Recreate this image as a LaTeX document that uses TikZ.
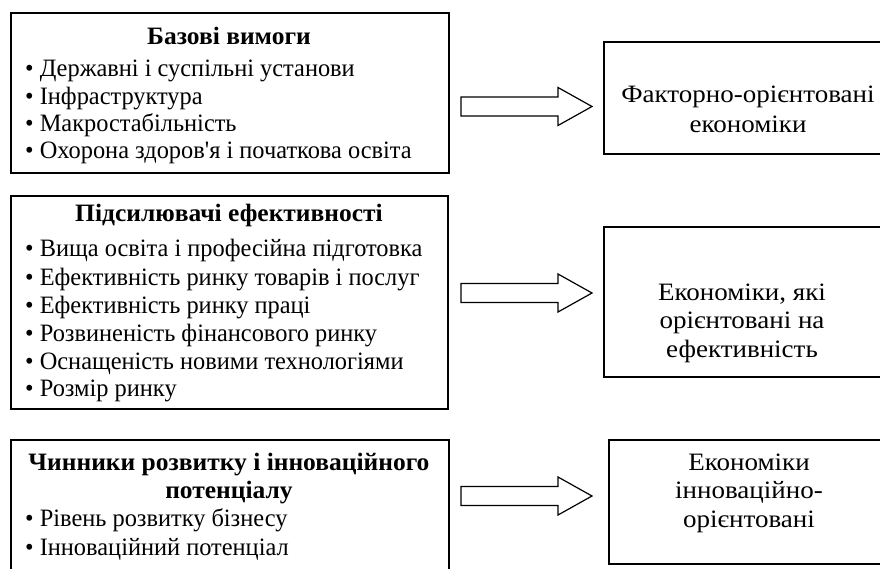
\documentclass[tikz,border=0pt]{standalone}
\usepackage{fontspec}
\setmainfont{Liberation Serif}[FakeStretch=0.975,Ligatures=TeXOff]
\newfontfamily\ttlfont{Liberation Serif}[FakeStretch=1.02]
\newfontfamily\rfont{Liberation Serif}[FakeStretch=1.08]
\newcommand{\blockarrow}[1]{%
  \draw[barrow] (461,{#1-9.5}) -- (558,{#1-9.5}) -- (558,{#1-19}) -- (592,#1)
    -- (558,{#1+19}) -- (558,{#1+9.5}) -- (461,{#1+9.5}) -- cycle;}
\begin{document}
\begin{tikzpicture}[x=1pt,y=-1pt,
  box/.style={draw=black, line width=1.6pt, inner sep=0pt, anchor=north west},
  txt/.style={anchor=base west, inner sep=0pt, font=\fontsize{25}{30}\selectfont},
  ttl/.style={anchor=base, inner sep=0pt, font=\ttlfont\fontsize{25}{30}\selectfont\bfseries},
  rtxt/.style={anchor=base, inner sep=0pt, font=\rfont\fontsize{25}{30}\selectfont},
  barrow/.style={draw=black, line width=1.2pt, fill=white, line join=miter}]
\useasboundingbox (0,0) rectangle (880,569);
\fill[white] (0,0) rectangle (880,569);
\clip (0,0) rectangle (880,569);
% left boxes
\node[box, minimum width=438pt, minimum height=160pt] (L1) at (10,12) {};
\node[box, minimum width=437pt, minimum height=213pt] (L2) at (10,195) {};
\node[box, minimum width=438pt, minimum height=160pt] (L3) at (10,439) {};
% right boxes
\node[box, minimum width=290pt, minimum height=112pt] (R1) at (603,41) {};
\node[box, minimum width=290pt, minimum height=150pt] (R2) at (603,226) {};
\node[box, minimum width=285pt, minimum height=124pt] (R3) at (608,439) {};
% arrows
\blockarrow{106.5}
\blockarrow{293}
\blockarrow{496}
% box 1 text
\node[ttl] (t1) at (229,45) {Базові вимоги};
\node[txt] (a1) at (25,77) {• Державні і суспільні установи};
\node[txt] (a2) at (25,105) {• Інфраструктура};
\node[txt] (a3) at (25,132) {• Макростабільність};
\node[txt] (a4) at (25,159) {• Охорона здоров'я і початкова освіта};
% box 2 text
\node[ttl] (t2) at (229,222) {Підсилювачі ефективності};
\node[txt] (b1) at (25,257) {• Вища освіта і професійна підготовка};
\node[txt] (b2) at (25,285) {• Ефективність ринку товарів і послуг};
\node[txt] (b3) at (25,313) {• Ефективність ринку праці};
\node[txt] (b4) at (25,341) {• Розвиненість фінансового ринку};
\node[txt] (b5) at (25,369) {• Оснащеність новими технологіями};
\node[txt] (b6) at (25,396) {• Розмір ринку};
% box 3 text
\node[ttl] (t3) at (229,470) {Чинники розвитку і інноваційного};
\node[ttl] (t3b) at (229,498) {потенціалу};
\node[txt] (c1) at (25,526) {• Рівень розвитку бізнесу};
\node[txt] (c2) at (25,555) {• Інноваційний потенціал};
% right texts
\node[rtxt] (r1a) at (748,103) {Факторно-орієнтовані};
\node[rtxt] (r1b) at (748,133) {економіки};
\node[rtxt] (r2a) at (742,300) {Економіки, які};
\node[rtxt] (r2b) at (742,328) {орієнтовані на};
\node[rtxt] (r2c) at (742,357) {ефективність};
\node[rtxt] (r3a) at (749,470) {Економіки};
\node[rtxt] (r3b) at (749,498) {інноваційно-};
\node[rtxt] (r3c) at (749,527) {орієнтовані};
\end{tikzpicture}
\end{document}
